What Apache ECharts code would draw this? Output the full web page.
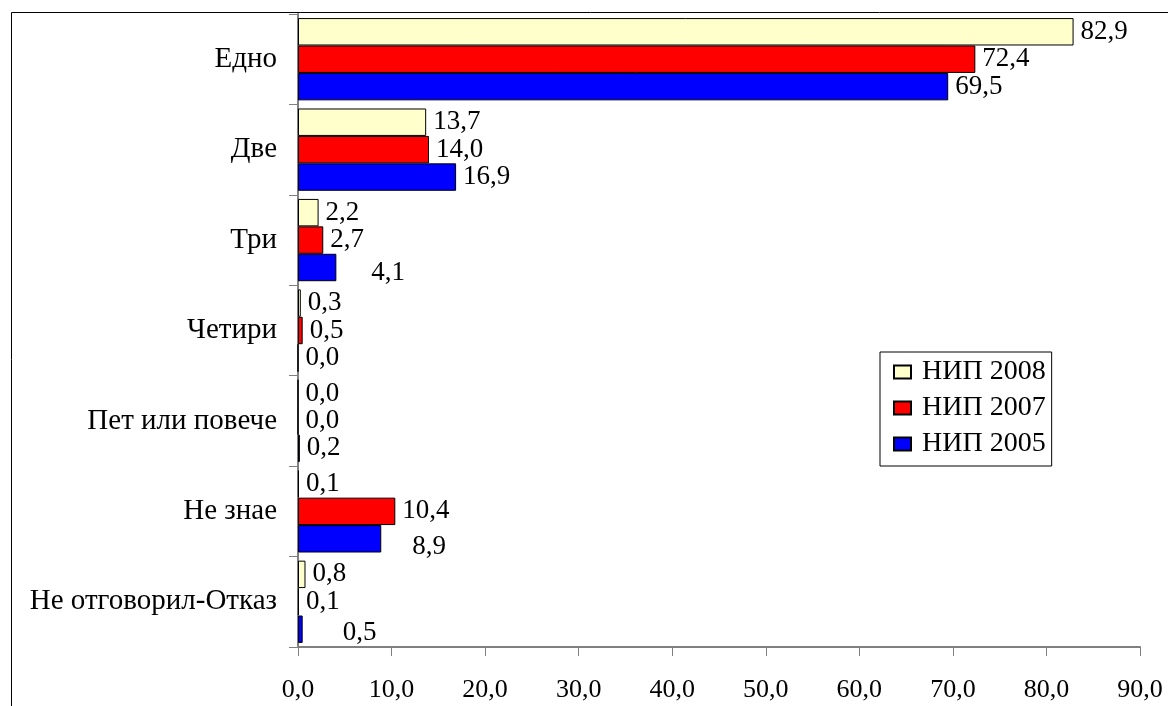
<!DOCTYPE html>
<html>
<head>
<meta charset="utf-8">
<script src="https://cdn.jsdelivr.net/npm/echarts@6/dist/echarts.min.js"></script>
<style>
  html, body { margin: 0; padding: 0; background: #fff; }
  #chart { width: 1168px; height: 706px; }
</style>
</head>
<body>
<div id="chart"></div>
<script>
// categories (top to bottom)
const categories = ["Едно", "Две", "Три", "Четири", "Пет или повече", "Не знае", "Не отговорил-Отказ"];
const seriesNames = ["НИП 2008", "НИП 2007", "НИП 2005"];
const nip2008 = [82.9, 13.7, 2.2, 0.3, 0.0, 0.1, 0.8];
const nip2007 = [72.4, 14.0, 2.7, 0.5, 0.0, 10.4, 0.1];
const nip2005 = [69.5, 16.9, 4.1, 0.0, 0.2, 8.9, 0.5];
const xTicks = [0, 10, 20, 30, 40, 50, 60, 70, 80, 90];
const colors = ["#FFFFCC", "#FF0000", "#0000FF"];
const FONT = "Liberation Serif";

// a few labels in the original sit away from their bars
const shiftedLabels = { 2: { 2: [28, 5], 5: [24, 8], 6: [33, 4] } };

const chart = echarts.init(document.getElementById("chart"));

const fmt = v => v.toFixed(1).replace(".", ",");

function makeSeries(idx, data) {
  const shifts = shiftedLabels[idx] || {};
  return {
    name: seriesNames[idx],
    type: "bar",
    data: data.map((v, i) => shifts[i] ? { value: v, label: { offset: shifts[i] } } : v),
    barGap: "0%",
    barCategoryGap: "9%",
    itemStyle: { color: colors[idx], borderColor: "#000", borderWidth: 1 },
    label: {
      show: true,
      position: "right",
      distance: 7,
      color: "#000",
      fontFamily: FONT,
      fontSize: 27,
      formatter: p => fmt(p.value)
    },
    animation: false
  };
}

chart.setOption({
  backgroundColor: "#fff",
  textStyle: { fontFamily: FONT },
  graphic: [
    {
      type: "rect",
      shape: { x: 11.5, y: 12.5, width: 1300, height: 900 },
      style: { fill: "none", stroke: "#000", lineWidth: 1 },
      silent: true
    }
  ],
  legend: {
    orient: "vertical",
    left: 880,
    top: 352,
    data: seriesNames,
    icon: "rect",
    itemWidth: 17,
    itemHeight: 13,
    itemGap: 8,
    padding: [6, 6, 8, 13],
    borderColor: "#000",
    borderWidth: 1,
    textStyle: { fontFamily: FONT, fontSize: 28, color: "#000", padding: [0, 0, 0, 6] }
  },
  grid: {
    left: 298,
    right: 28,
    top: 14,
    bottom: 59,
    containLabel: false
  },
  xAxis: {
    type: "value",
    min: xTicks[0],
    max: xTicks[xTicks.length - 1],
    interval: xTicks[1] - xTicks[0],
    splitLine: { show: false },
    axisLine: { show: true, lineStyle: { color: "#808080", width: 2 } },
    axisTick: { show: true, length: 9, lineStyle: { color: "#808080" } },
    axisLabel: {
      margin: 30,
      color: "#000",
      fontFamily: FONT,
      fontSize: 26,
      formatter: v => fmt(v)
    }
  },
  yAxis: {
    type: "category",
    inverse: true,
    data: categories,
    axisLine: { show: true, lineStyle: { color: "#808080", width: 2 } },
    axisTick: { show: true, length: 9, lineStyle: { color: "#808080" } },
    axisLabel: {
      margin: 21,
      color: "#000",
      fontFamily: FONT,
      fontSize: 29
    }
  },
  series: [
    makeSeries(0, nip2008),
    makeSeries(1, nip2007),
    makeSeries(2, nip2005)
  ]
});
</script>
</body>
</html>
